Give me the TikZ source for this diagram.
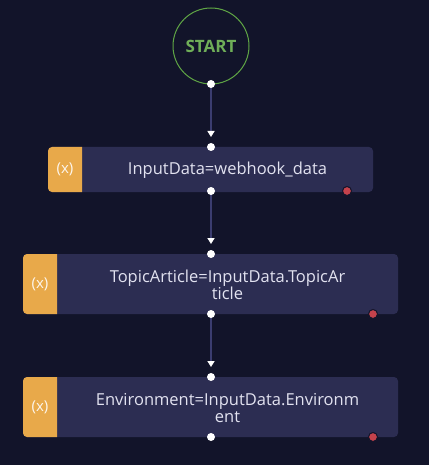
\documentclass[tikz,border=0pt]{standalone}
\usepackage{fontspec}
\setmainfont{Open Sans}
\usetikzlibrary{arrows.meta}
\definecolor{bg}{HTML}{12142A}
\definecolor{boxfill}{HTML}{2C2D52}
\definecolor{orng}{HTML}{E8A94A}
\definecolor{conn}{HTML}{3B3D70}
\definecolor{grn}{HTML}{5FA545}
\definecolor{txt}{HTML}{E2E2F0}
\definecolor{reddot}{HTML}{C4424C}
\tikzset{
  x=1pt, y=-1pt,
  flowbox/.style={fill=boxfill, rounded corners=4pt},
  boxtext/.style={text=txt, align=center, font=\fontsize{16.5}{17}\selectfont, inner sep=0pt},
  tagtext/.style={text=white!90!orng, font=\fontsize{15}{17}\selectfont, inner sep=0pt},
  port/.style={circle, fill=white, minimum size=8pt, inner sep=0pt},
  errport/.style={circle, fill=reddot, draw=bg, line width=1pt, minimum size=9pt, inner sep=0pt},
  connline/.style={draw=conn, line width=2pt, -{Triangle[color=white, width=7pt, length=6pt]}, shorten >=10pt},
}
\begin{document}
\begin{tikzpicture}
\fill[bg] (0,0) rectangle (429,465);
\useasboundingbox (0,0) rectangle (429,465);

% START
\node[circle, draw=grn, line width=1pt, minimum size=76pt, inner sep=0pt, text=grn!90!white,
      font=\fontsize{17}{19}\selectfont\bfseries] (start) at (211,46) {START};

% Box 1
\fill[flowbox] (48,147) rectangle (373,192);
\fill[orng] (82,147) [rounded corners=4pt] -- (48,147) -- (48,192) [sharp corners] -- (82,192) -- cycle;
\node[tagtext] (t1) at (65,169) {(x)};
\node[boxtext] (b1) at (227.5,170) {InputData=webhook\_data};
\node[errport] (e1) at (347,191) {};

% Box 2
\fill[flowbox] (23,254) rectangle (398,314);
\fill[orng] (57,254) [rounded corners=4pt] -- (23,254) -- (23,314) [sharp corners] -- (57,314) -- cycle;
\node[tagtext] (t2) at (40,284) {(x)};
\node[boxtext] (b2) at (227.5,285) {TopicArticle=InputData.TopicAr\\ticle};
\node[errport] (e2) at (373,314) {};

% Box 3
\fill[flowbox] (23,377) rectangle (398,437);
\fill[orng] (57,377) [rounded corners=4pt] -- (23,377) -- (23,437) [sharp corners] -- (57,437) -- cycle;
\node[tagtext] (t3) at (40,407) {(x)};
\node[boxtext] (b3) at (227.5,408) {Environment=InputData.Environm\\ent};
\node[errport] (e3) at (373,437) {};

% connectors
\coordinate (s0) at (211,84);
\coordinate (i1) at (211,147);
\coordinate (o1) at (211,191);
\coordinate (i2) at (211,254);
\coordinate (o2) at (211,314);
\coordinate (i3) at (211,377);
\draw[connline] (s0) -- (i1);
\draw[connline] (o1) -- (i2);
\draw[connline] (o2) -- (i3);

% ports
\foreach \p in {s0,i1,o1,i2,o2,i3}
  \node[port] at (\p) {};
\node[port] (o3) at (211,437) {};
\end{tikzpicture}
\end{document}
